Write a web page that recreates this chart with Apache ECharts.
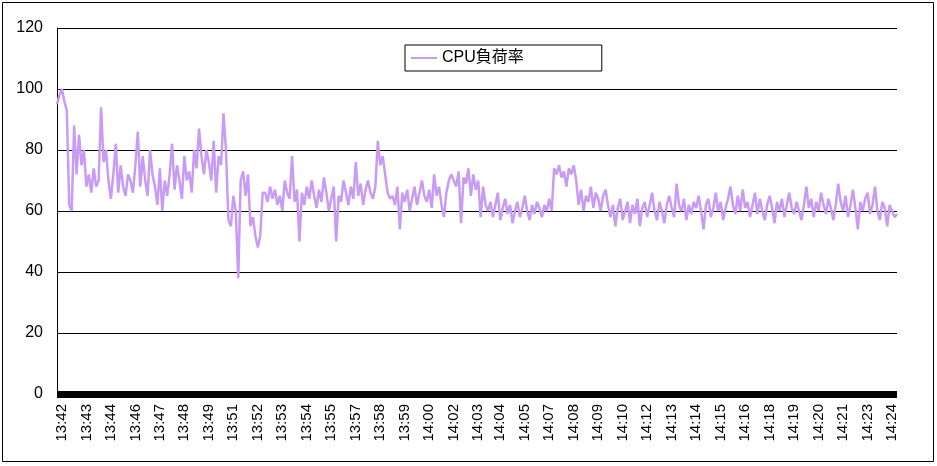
<!DOCTYPE html>
<html><head><meta charset="utf-8">
<script src="https://cdn.jsdelivr.net/npm/echarts@6/dist/echarts.min.js"></script>
<style>html,body{margin:0;padding:0;background:#fff}#c{width:937px;height:466px}</style>
</head><body><div id="c"></div>
<script>
const tickLabels = ["13:42","13:43","13:44","13:46","13:47","13:48","13:49","13:51","13:52","13:53","13:54","13:55","13:57","13:58","13:59","14:00","14:02","14:03","14:04","14:05","14:07","14:08","14:09","14:10","14:12","14:13","14:14","14:15","14:16","14:18","14:19","14:20","14:21","14:23","14:24"];
const seriesName = "CPU負荷率";
const cpuLoad = [
95,98,100,96,93,
62,60,
88,72,85,75,80,68,
72,66,74,68,70,94,76,80,
70,64,72,82,66,75,68,65,72,70,
66,75,86,68,78,70,65,80,72,68,62,74,60,70,
65,72,82,67,75,70,64,78,70,73,66,80,74,87,78,72,
80,76,70,83,66,78,75,92,80,
57,55,65,60,
38,
70,73,65,72,
55,58,52,48,52,66,
66,63,68,64,67,62,65,60,70,66,64,78,63,67,50,66,62,68,64,70,65,61,67,63,71,66,60,64,68,50,65,63,70,66,62,68,64,76,65,69,62,67,70,66,64,68,
83,
75,78,72,66,64,
65,62,68,54,66,63,67,60,64,68,62,66,70,65,63,67,61,72,65,68,62,58,66,70,
72,70,68,73,56,71,69,74,65,72,67,70,58,68,62,
60,63,58,62,66,57,61,64,59,62,56,60,63,58,61,65,60,57,62,59,63,61,58,62,60,64,60,
74,72,75,71,73,68,74,72,75,70,
62,67,60,65,63,68,61,66,64,60,65,67,62,
58,62,55,61,64,57,60,63,56,62,59,64,55,61,63,58,62,66,60,57,63,60,56,62,65,61,58,69,62,60,64,57,62,59,63,61,65,60,54,62,64,58,61,66,60,63,57,61,64,68,62,59,65,60,67,61,63,58,62,66,59,64,60,57,62,65,61,56,63,60,64,58,62,66,61,59,63,60,57,62,68,61,64,58,63,60,66,62,59,64,61,57,62,69,63,60,65,58,62,67,61,54,63,60,64,66,59,62,68,60,57,63,61,55,62,60,58,59
];
const N = cpuLoad.length;
const labelAt = {};
tickLabels.forEach((t,k)=>{ labelAt[Math.round(2 + k*(N-5)/(tickLabels.length-1))] = t; });
const categories = cpuLoad.map((_,i)=> labelAt[i] !== undefined ? labelAt[i] : ('#'+i));
const chart = echarts.init(document.getElementById('c'));
const font = '"Liberation Sans", "Noto Sans CJK JP", sans-serif';
chart.setOption({
  animation:false,
  textStyle:{fontFamily:font},
  graphic:[{type:'rect',shape:{x:2.5,y:2.5,width:931,height:459},style:{fill:'none',stroke:'#000',lineWidth:1},z:-1}],
  grid:{left:57,right:40,top:28,bottom:72},
  legend:{data:[seriesName],left:405,top:45,padding:[5,78,5,6],
    backgroundColor:'#fff',borderColor:'#000',borderWidth:1,borderRadius:0,
    itemWidth:26,itemHeight:10,itemGap:4,icon:'path://M0,4L26,4L26,6L0,6Z',
    textStyle:{fontSize:16,color:'#000',fontFamily:font}},
  xAxis:{type:'category',data:categories,boundaryGap:false,
    axisLine:{lineStyle:{color:'#000',width:7,cap:'butt'}},axisTick:{show:false},
    axisLabel:{interval:(i)=>labelAt[i]!==undefined,rotate:90,fontSize:15,color:'#000',margin:10,
      formatter:(v)=>v.startsWith('#')?'':v}},
  yAxis:{type:'value',min:0,max:120,interval:20,
    axisLine:{show:true,lineStyle:{color:'#000',width:1}},axisTick:{show:false},
    axisLabel:{fontSize:16,color:'#000',margin:14},
    splitLine:{lineStyle:{color:'#000',width:1}}},
  series:[{name:seriesName,type:'line',data:cpuLoad,showSymbol:false,
    lineStyle:{color:'#c89cf4',width:2.5},itemStyle:{color:'#c89cf4'}}]
});
</script></body></html>
